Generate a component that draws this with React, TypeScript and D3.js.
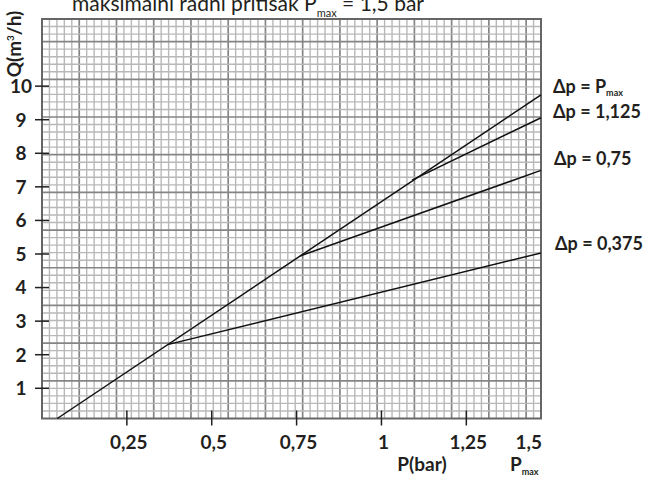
import React from "react";
import { scaleLinear, line, range } from "d3";

// pressure axis ticks (bar)
const pTicks = [0.25, 0.5, 0.75, 1, 1.25];
const pTickLabels = ["0,25", "0,5", "0,75", "1", "1,25"];
const qTicks = [1, 2, 3, 4, 5, 6, 7, 8, 9, 10];

// flow lines: [P (bar), Q (m3/h)]
const linePmax = [[0.045, 0.1], [1.47, 9.74]];
const line1125 = [[1.09, 7.2], [1.47, 9.06]];
const line075 = [[0.76, 4.94], [1.47, 7.49]];
const line0375 = [[0.37, 2.3], [1.47, 5.03]];
const seriesLabels = ["1,125", "0,75", "0,375"];

const W = 650;
const H = 482;
const left = 42, right = 541, top = 19, bottom = 418.5;
const font = "Lato, 'Open Sans', sans-serif";
const ink = "#231f20";

const App = () => {
  const x = scaleLinear().domain([0, 1.47]).range([left, right]);
  const y = scaleLinear().domain([0.1, 12]).range([bottom, top]);
  const path = line<number[]>().x(d => x(d[0])).y(d => y(d[1]));

  // graph paper grid
  const nCols = 67, nRows = 53;
  const cw = (right - left) / nCols;
  const ch = (bottom - top) / nRows;
  const cols = range(1, nCols);
  const rows = range(1, nRows);

  const series = [line1125, line075, line0375];
  const labelShift = [0, -5, -3];

  return (
    <svg width={W} height={H} style={{ position: "absolute", left: 0, top: 0, background: "#fff" }}>
      {/* title, cut by the top edge like the original */}
      <text x={72} y={11} fontFamily={font} fontSize={21} fill={ink}>
        maksimalni radni pritisak P
        <tspan fontSize={11} dy={6}>max</tspan>
        <tspan dy={-6}> = 1,5 bar</tspan>
      </text>

      <g>
        {cols.map(i => (
          <line key={"c" + i} x1={left + i * cw} x2={left + i * cw} y1={top} y2={bottom}
            stroke={i % 5 === 0 ? "#858585" : "#b8b8b8"} strokeWidth={i % 5 === 0 ? 1.7 : 1.4} />
        ))}
        {rows.map(i => (
          <line key={"r" + i} x1={left} x2={right} y1={bottom - i * ch} y2={bottom - i * ch}
            stroke={i % 5 === 0 ? "#858585" : "#b8b8b8"} strokeWidth={i % 5 === 0 ? 1.7 : 1.4} />
        ))}
        <rect x={left} y={top} width={right - left} height={bottom - top} fill="none" stroke="#666" strokeWidth={2} />
      </g>

      {/* y axis */}
      {qTicks.map(q => (
        <g key={q}>
          <line x1={left - 7} x2={left + 7} y1={y(q)} y2={y(q)} stroke={ink} strokeWidth={1.5} />
          <text x={21} y={y(q)} dy="0.36em" textAnchor="middle" fontFamily={font} fontWeight="bold" fontSize={19} fill={ink}>{q}</text>
        </g>
      ))}
      <text transform="translate(21,44) rotate(-90)" textAnchor="middle" fontFamily={font} fontWeight="bold" fontSize={19} fill={ink}>
        Q(m<tspan fontSize={10} dy={-7}>3</tspan><tspan dy={7}>/h)</tspan>
      </text>

      {/* x axis */}
      {pTicks.map((p, i) => (
        <g key={p}>
          <line x1={x(p)} x2={x(p)} y1={bottom - 8} y2={bottom + 7} stroke={ink} strokeWidth={1.5} />
          <text x={x(p) + 2} y={449} textAnchor="middle" fontFamily={font} fontWeight="bold" fontSize={19} fill={ink}>{pTickLabels[i]}</text>
        </g>
      ))}
      <text x={right + 1} y={449} textAnchor="end" fontFamily={font} fontWeight="bold" fontSize={19} fill={ink}>1,5</text>
      <text x={422} y={471} textAnchor="middle" fontFamily={font} fontWeight="bold" fontSize={19} fill={ink}>P(bar)</text>
      <text x={510} y={471} fontFamily={font} fontWeight="bold" fontSize={19} fill={ink}>
        P<tspan fontSize={9} dy={4}>max</tspan>
      </text>

      {/* flow lines */}
      <path d={path(linePmax as any) || ""} fill="none" stroke="#111" strokeWidth={1.5} />
      {series.map((s, i) => (
        <path key={i} d={path(s as any) || ""} fill="none" stroke="#111" strokeWidth={1.5} />
      ))}

      {/* right-hand labels */}
      <text x={553} y={y(linePmax[1][1]) - 2} fontFamily={font} fontWeight="bold" fontSize={18} fill={ink}>
        Δp = P<tspan fontSize={9} dy={3}>max</tspan>
      </text>
      {series.map((s, i) => (
        <text key={i} x={553 + i} y={y(s[1][1]) + labelShift[i]}
          fontFamily={font} fontWeight="bold" fontSize={18} fill={ink}>
          Δp = {seriesLabels[i]}
        </text>
      ))}
    </svg>
  );
};

export default App;
